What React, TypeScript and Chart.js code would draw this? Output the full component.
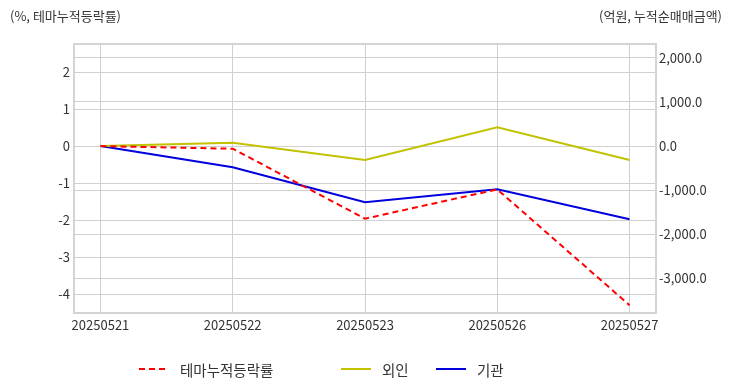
import React, { useEffect, useRef } from "react";
import { Chart, registerables } from "chart.js";

Chart.register(...registerables);

const categories = ["20250521", "20250522", "20250523", "20250526", "20250527"];
const themeRate = [0, -0.07, -1.96, -1.17, -4.3];
const foreignNet = [0, 75, -318, 425, -318];
const instNet = [0, -484, -1280, -984, -1666];
const leftTicks = [-4, -3, -2, -1, 0, 1, 2];
const rightTicks = [-3000, -2000, -1000, 0, 1000, 2000];

const FONT = "'Noto Sans CJK KR', 'Noto Sans', sans-serif";
const TXT = "#333333";
const GRID = "#d0d0d0";

const boxPlugin = {
  id: "plotBox",
  afterDraw(chart: any) {
    const { ctx, chartArea } = chart;
    ctx.save();
    ctx.strokeStyle = "#d4d4d4";
    ctx.lineWidth = 2;
    ctx.strokeRect(chartArea.left, chartArea.top, chartArea.right - chartArea.left, chartArea.bottom - chartArea.top);
    ctx.restore();
  },
};

export default function App() {
  const ref = useRef<HTMLCanvasElement | null>(null);
  useEffect(() => {
    if (!ref.current) return;
    const chart = new Chart(ref.current, {
      type: "line",
      data: {
        datasets: [
          {
            label: "테마누적등락률",
            data: themeRate.map((v, i) => ({ x: i, y: v })),
            borderColor: "#ff0000",
            borderDash: [6, 4],
            borderWidth: 2,
            pointRadius: 0,
            yAxisID: "y",
          },
          {
            label: "외인",
            data: foreignNet.map((v, i) => ({ x: i, y: v })),
            borderColor: "#c2c200",
            borderWidth: 2,
            pointRadius: 0,
            yAxisID: "y1",
          },
          {
            label: "기관",
            data: instNet.map((v, i) => ({ x: i, y: v })),
            borderColor: "#0000dd",
            borderWidth: 2,
            pointRadius: 0,
            yAxisID: "y1",
          },
        ],
      },
      options: {
        animation: false,
        responsive: false,
        maintainAspectRatio: false,
        layout: { padding: { top: 44, left: 0, right: 0, bottom: 0 } },
        plugins: { legend: { display: false }, tooltip: { enabled: false } },
        scales: {
          x: {
            type: "linear",
            min: -0.2,
            max: 4.2,
            afterBuildTicks: (s: any) => {
              s.ticks = categories.map((_, i) => ({ value: i }));
            },
            afterFit: (s: any) => {
              s.height = 79;
            },
            ticks: {
              callback: (v: any) => categories[v] ?? "",
              color: TXT,
              font: { family: FONT, size: 13 },
              padding: 4,
              maxRotation: 0,
              autoSkip: false,
            },
            grid: { color: GRID, drawTicks: false },
            border: { color: "#d4d4d4", width: 2 },
          },
          y: {
            position: "left",
            min: -4.51,
            max: 2.76,
            afterBuildTicks: (s: any) => {
              s.ticks = leftTicks.map((v) => ({ value: v }));
            },
            afterFit: (s: any) => {
              s.width = 74;
            },
            ticks: {
              color: TXT,
              font: { family: FONT, size: 13 },
              padding: 4,
              callback: (v: any) => String(v),
            },
            grid: { color: GRID, drawTicks: false },
            border: { color: "#d4d4d4", width: 2 },
          },
          y1: {
            position: "right",
            min: -3795,
            max: 2318,
            afterBuildTicks: (s: any) => {
              s.ticks = rightTicks.map((v) => ({ value: v }));
            },
            afterFit: (s: any) => {
              s.width = 76;
            },
            ticks: {
              color: TXT,
              font: { family: FONT, size: 13 },
              padding: 3,
              callback: (v: any) =>
                Number(v).toLocaleString("en-US", { minimumFractionDigits: 1, maximumFractionDigits: 1 }),
            },
            grid: { color: GRID, drawTicks: false },
            border: { color: "#d4d4d4", width: 2 },
          },
        },
      },
      plugins: [boxPlugin],
    });
    return () => chart.destroy();
  }, []);

  const legendItem = (label: string, color: string, dashed: boolean, left: number) => (
    <div style={{ position: "absolute", left, top: 360, display: "flex", alignItems: "center", height: 18 }}>
      <svg width={30} height={4} style={{ display: "block" }}>
        <line x1={0} y1={2} x2={30} y2={2} stroke={color} strokeWidth={2} strokeDasharray={dashed ? "6 4" : undefined} />
      </svg>
      <span style={{ marginLeft: 11, fontFamily: FONT, fontSize: 14.5, color: TXT, whiteSpace: "nowrap" }}>{label}</span>
    </div>
  );

  return (
    <div style={{ position: "fixed", left: 0, top: 0, width: 732, height: 392, background: "#fff" }}>
      <canvas ref={ref} width={732} height={392} style={{ position: "absolute", left: 0, top: 0 }} />
      <div style={{ position: "absolute", left: 10, top: 6, fontFamily: FONT, fontSize: 13, color: TXT }}>
        (%, 테마누적등락률)
      </div>
      <div style={{ position: "absolute", right: 10, top: 6, fontFamily: FONT, fontSize: 13, color: TXT }}>
        (억원, 누적순매매금액)
      </div>
      {legendItem("테마누적등락률", "#ff0000", true, 139)}
      {legendItem("외인", "#c2c200", false, 341)}
      {legendItem("기관", "#0000dd", false, 436)}
    </div>
  );
}
